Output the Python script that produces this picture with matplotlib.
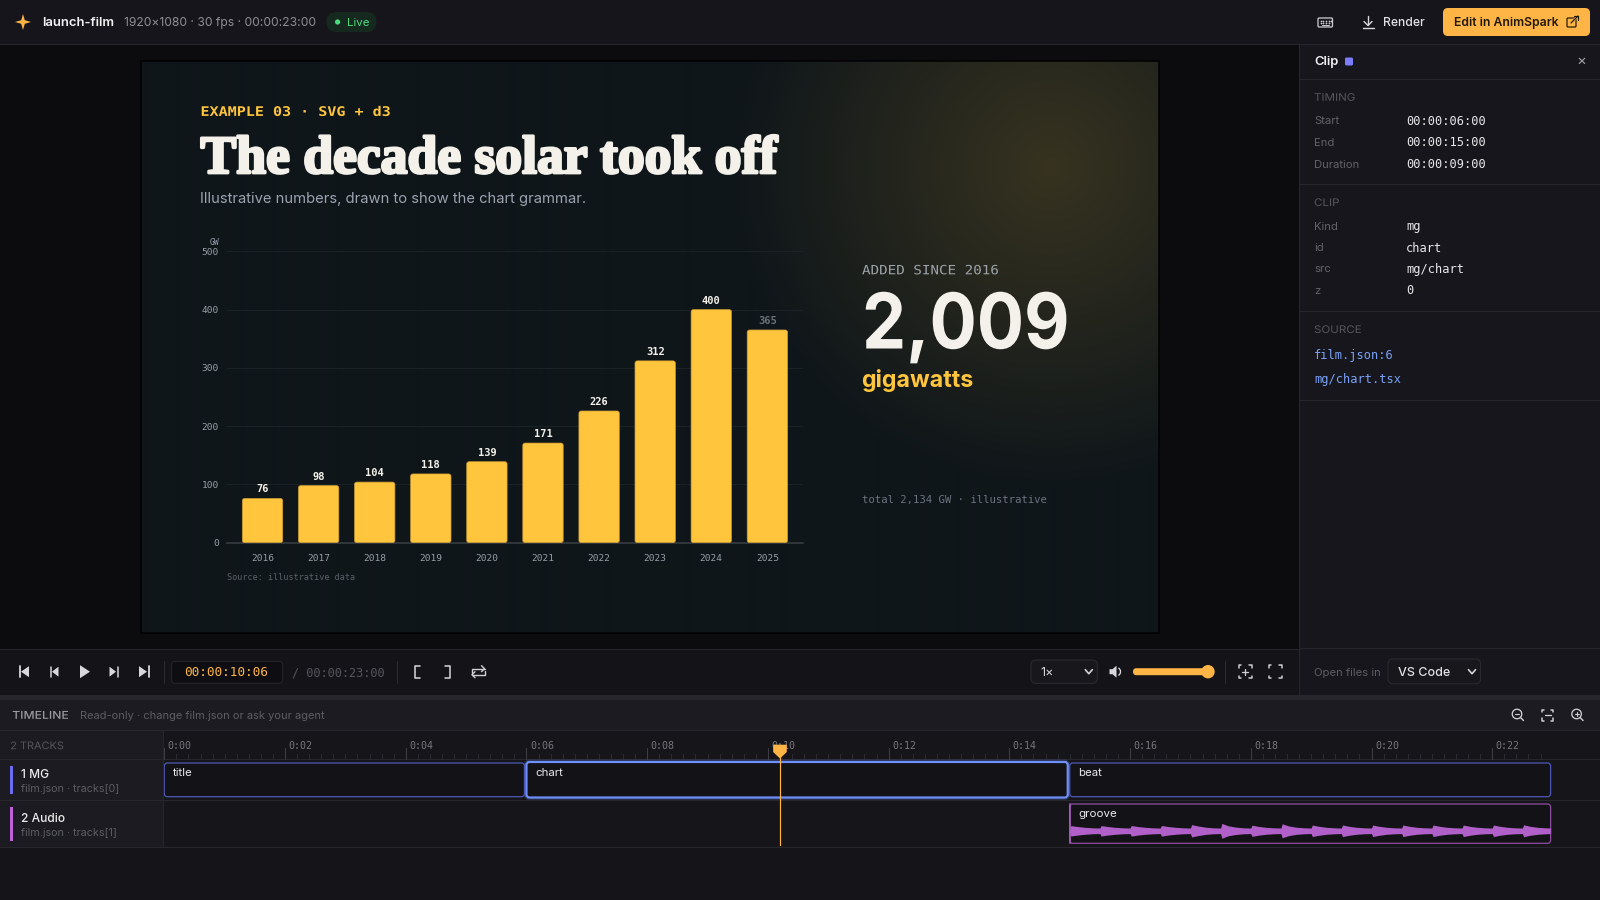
import numpy as np
import matplotlib
matplotlib.use('Agg')
import matplotlib.pyplot as plt
import matplotlib.patheffects as pe
from matplotlib.patches import FancyBboxPatch, Rectangle, Polygon, Circle, Arc
from matplotlib.transforms import Affine2D

# chart data
years = ['2016', '2017', '2018', '2019', '2020', '2021', '2022', '2023', '2024', '2025']
added_gw = [76, 98, 104, 118, 139, 171, 226, 312, 400, 365]
y_ticks = [0, 100, 200, 300, 400, 500]

# timeline data (seconds)
clip_names = ['title', 'chart', 'beat', 'groove']
clip_start = [0, 6, 15, 15]
clip_end = [6, 15, 23, 23]
ruler_labels = ['0:00', '0:02', '0:04', '0:06', '0:08', '0:10', '0:12', '0:14', '0:16', '0:18', '0:20', '0:22']
ruler_seconds = [0, 2, 4, 6, 8, 10, 12, 14, 16, 18, 20, 22]
playhead_sec = 10.2

# half height of the audio waveform in pixels, one row per half second beat
wave_half = [
    3.0, 5.2, 4.3, 3.5, 3.0, 2.8,
    2.8, 5.2, 4.3, 3.5, 3.0, 2.8,
    2.8, 5.3, 4.3, 3.5, 3.0, 2.8,
    2.8, 5.3, 4.3, 3.5, 3.0, 2.8,
    2.8, 6.2, 4.8, 3.6, 3.0, 2.8,
    2.8, 7.4, 5.0, 3.7, 3.0, 2.8,
    2.8, 5.6, 4.4, 3.5, 3.0, 2.8,
    2.8, 7.0, 4.9, 3.6, 3.0, 2.8,
    2.8, 5.8, 4.5, 3.5, 3.0, 2.8,
    2.8, 5.8, 4.5, 3.5, 3.0, 2.8,
    2.8, 5.8, 4.5, 3.5, 3.0, 2.8,
    2.8, 5.8, 4.5, 3.5, 3.0, 2.8,
    2.8, 5.8, 4.5, 3.5, 3.0, 2.8,
    2.8, 5.8, 4.5, 3.5, 3.0, 2.8,
    2.8, 5.8, 4.5, 3.5, 3.0, 2.8,
    2.8, 6.0, 4.5, 3.5, 3.0, 2.8,
]
wave_beat_pos = [0, 0.04, 0.25, 0.5, 0.75, 0.96]

# colours
YELLOW = '#ffc53d'
ORANGE = '#ffb545'
PANEL = '#16161c'
HEAD = '#1b1b21'
LINE = '#26262c'
MONO = 'DejaVu Sans Mono'
SANS = 'Inter'

PX = 0.72  # css px to points at dpi 100

fig = plt.figure(figsize=(16, 9), dpi=100, facecolor='#141419')
ui = fig.add_axes([0, 0, 1, 1])
ui.axis('off')


class StretchX(pe.AbstractPathEffect):
    # stands in for css letter-spacing, scales the glyphs sideways about the text's left edge
    def __init__(self, sx, x0):
        super().__init__()
        self.sx, self.x0 = sx, x0

    def draw_path(self, renderer, gc, tpath, affine, rgbFace=None):
        a = affine + Affine2D().translate(-self.x0, 0).scale(self.sx, 1).translate(self.x0, 0)
        renderer.draw_path(gc, tpath, a, rgbFace)


def label(x, y, s, size, color, family=SANS, weight='normal', ha='left', ax=None, stretch=None, **kw):
    t = (ax or ui).text(x, y + 1, s, fontsize=size * PX, color=color, family=family,
                        weight=weight, ha=ha, va='center', **kw)
    if stretch:
        t.set_path_effects([StretchX(stretch, x)])
    return t


def rect(x0, y0, x1, y1, face, edge='none', lw=0, r=0, z=1, ax=None, aspect=1):
    ax = ax or ui
    if r:
        p = FancyBboxPatch((x0, y0), x1 - x0, y1 - y0, boxstyle=f'round,pad=0,rounding_size={r}',
                           facecolor=face, edgecolor=edge, linewidth=lw * PX, zorder=z,
                           mutation_aspect=aspect)
    else:
        p = Rectangle((x0, y0), x1 - x0, y1 - y0, facecolor=face, edgecolor=edge,
                      linewidth=lw * PX, zorder=z)
    ax.add_patch(p)
    return p


def seg(xs, ys, color='#c9c9ce', lw=1.4, z=4):
    ui.plot(xs, ys, color=color, lw=lw * PX, zorder=z, solid_capstyle='round', solid_joinstyle='round')


def tri(pts, color='#d8d8dc', z=4):
    ui.add_patch(Polygon(pts, closed=True, facecolor=color, edgecolor='none', zorder=z))


def corners(cx, cy, h, color='#d0d0d4'):
    d = h * 0.4
    for sx in (-1, 1):
        for sy in (-1, 1):
            seg([cx + sx * (h - d), cx + sx * h, cx + sx * h], [cy + sy * h, cy + sy * h, cy + sy * (h - d)], color, 1.5)


def chevron(cx, cy, color='#d0d0d4'):
    seg([cx - 3.5, cx, cx + 3.5], [cy - 2, cy + 2, cy - 2], color, 1.7)


# page backgrounds ---------------------------------------------------------
rect(0, 44, 1299, 649, '#0c0c0e', z=0.2)

yy, xx = np.mgrid[61:633, 141:1159]
glow = 0.165 * np.clip(1 - np.hypot(xx - 1050, yy - 167) / 320.0, 0, 1)
frame = np.empty(xx.shape + (3,))
for i, (base, tint) in enumerate([(15, 255), (22, 197), (26, 61)]):
    frame[..., i] = (base + (tint - base) * glow) / 255
ui.imshow(frame, extent=(141.5, 1158.5, 633, 61), aspect='auto', zorder=0.4, interpolation='bilinear')
rect(141, 60.5, 1159, 633, 'none', '#020203', 1.6, z=0.5)

# top bar
rect(0, 0, 1600, 44, '#15151b', z=0.6)
ui.plot([0, 1600], [44.3, 44.3], color=LINE, lw=1 * PX, zorder=0.7)
tri([(23, 14), (24.8, 20.2), (31, 22), (24.8, 23.8), (23, 30), (21.2, 23.8), (15, 22), (21.2, 20.2)], ORANGE)
label(42, 22, 'launch-film', 13, '#f2f2f4', weight='semibold')
label(124, 22, '1920×1080 · 30 fps · 00:00:23:00', 12.1, '#8d8d94')
rect(326.5, 12, 376.5, 32, '#16291f', r=10, z=2)
ui.add_patch(Circle((337.6, 22), 2.6, facecolor='#4ade80', zorder=3))
label(347, 22, 'Live', 11.5, '#4ade80')

# keyboard icon
rect(1318, 18, 1332.5, 27, 'none', '#c9c9ce', 1.3, r=1.2, z=4)
ui.scatter([1320.5, 1323.2, 1326, 1328.8, 1330.5, 1320.5, 1323.2, 1326, 1328.8], [20.5, 20.5, 20.5, 20.5, 20.5, 22.7, 22.7, 22.7, 22.7], s=1.6, color='#c9c9ce', zorder=4, linewidths=0)
seg([1322, 1329], [25, 25], '#c9c9ce', 1)
# download icon
seg([1368, 1368], [16, 25], '#d8d8dc')
seg([1364, 1368, 1372], [21.5, 25.5, 21.5], '#d8d8dc')
seg([1362.5, 1373.5], [28, 28], '#d8d8dc')
label(1383, 22, 'Render', 12.1, '#e2e2e6', weight='medium')
rect(1443, 8, 1590, 36, ORANGE, r=5, z=2)
label(1454.5, 22, 'Edit in AnimSpark', 12.2, '#20180a', weight='semibold', zorder=3)
rect(1567, 18, 1576, 27, 'none', '#20180a', 1.2, r=1, z=3)
seg([1571, 1578], [23, 16], ORANGE, 2.4, z=3.5)
seg([1571, 1578], [23, 16], '#20180a', 1.2, z=4)
seg([1574, 1578, 1578], [16, 16, 20], '#20180a', 1.2, z=4)

# right panel
rect(1299, 44.5, 1600, 695, PANEL, z=0.6)
ui.plot([1299, 1299], [44, 695], color=LINE, lw=1 * PX, zorder=0.7)
for y in [79.3, 184.3, 311.3, 400.3, 648.3]:
    ui.plot([1299, 1600], [y, y], color=LINE, lw=1 * PX, zorder=0.7)
label(1314, 61, 'Clip', 13, '#f0f0f2', weight='semibold')
rect(1345, 57.5, 1353, 65.5, '#7c7cff', r=1.5, z=2)
label(1581, 60, '×', 15, '#a0a0a6', ha='center')
for txt, y in [('TIMING', 96.8), ('CLIP', 202), ('SOURCE', 329)]:
    label(1314, y, txt, 10.5, '#55555d', stretch=1.1)
rows = [('Start', '00:00:06:00', 120.5), ('End', '00:00:15:00', 141.5), ('Duration', '00:00:09:00', 163.5),
        ('Kind', 'mg', 225.5), ('id', 'chart', 247), ('src', 'mg/chart', 268.5), ('z', '0', 289.5)]
for k, v, y in rows:
    label(1314, y, k, 11.3, '#62626a')
    label(1406, y, v, 12, '#e8e8ea', family=MONO)
label(1314, 354, 'film.json:6', 12, '#7aa2f7', family=MONO)
label(1314, 378, 'mg/chart.tsx', 12, '#7aa2f7', family=MONO)

# frame text
label(200.5, 111.4, 'EXAMPLE 03 · SVG + d3', 13.2, YELLOW, family=MONO, weight='bold', stretch=1.14)
title = label(200.5, 159, 'The decade solar took off', 53.6, '#f3f1ea', family='Liberation Serif', weight='bold',
              path_effects=[pe.withStroke(linewidth=2.0, foreground='#f3f1ea')])
label(200.5, 197.5, 'Illustrative numbers, drawn to show the chart grammar.', 14.8, '#9ca3af')
label(862, 269.8, 'ADDED SINCE 2016', 12.8, '#9ca3a8', family=MONO, stretch=1.11)
label(862, 327, '2,009', 77, '#f3f1ea', weight='bold', stretch=0.91)
label(861.5, 379.5, 'gigawatts', 23.2, YELLOW, weight='bold')
label(861.5, 498.5, 'total 2,134 GW · illustrative', 10.6, '#6b7280', family=MONO)

# chart --------------------------------------------------------------------
chart = fig.add_axes([227 / 1600, (900 - 542.7) / 900, 576.3 / 1600, 291.4 / 900])
chart.patch.set_visible(False)
x_pos = np.arange(len(years))
chart.set_xlim(-0.633, 9.64)
chart.set_ylim(0, 500)
bars = chart.bar(x_pos, added_gw, width=0.72, color=YELLOW, zorder=3)
for b in bars:
    bx, by = b.get_xy()
    rounded = FancyBboxPatch((bx, by), b.get_width(), b.get_height(),
                             boxstyle='round,pad=0,rounding_size=0.045', mutation_aspect=87,
                             facecolor=YELLOW, edgecolor='#c99a32', linewidth=0.5, zorder=3)
    chart.add_patch(rounded)
    b.set_visible(False)
for i, v in enumerate(added_gw):
    c = '#6b7078' if years[i] == '2025' else '#f3f1ea'
    chart.annotate(str(v), (x_pos[i], v), xytext=(0, 9 * PX), textcoords='offset points', ha='center', va='center',
                   fontsize=10.4 * PX, color=c, family=MONO, weight='bold')
for s in ['top', 'right', 'left']:
    chart.spines[s].set_visible(False)
chart.spines['bottom'].set_color('#3b4045')
chart.spines['bottom'].set_linewidth(1.5 * PX)
chart.grid(axis='y', color='#1a2127', lw=1 * PX, zorder=0)
chart.set_axisbelow(True)
chart.set_yticks(y_ticks)
chart.set_xticks(x_pos, years)
chart.tick_params(axis='both', length=0, labelsize=9.5 * PX, labelcolor='#979ea9')
chart.tick_params(axis='y', pad=8 * PX)
chart.tick_params(axis='x', pad=11 * PX)
for t in chart.get_xticklabels() + chart.get_yticklabels():
    t.set_family(MONO)
label(219, 241.5, 'GW', 8, '#9ca3af', family=MONO, ha='right')
label(227, 576, 'Source: illustrative data', 8.45, '#5b6068', family=MONO)

# transport bar ------------------------------------------------------------
rect(0, 649.3, 1299, 694.5, '#131318', z=0.6)
ui.plot([0, 1299], [649.3, 649.3], color=LINE, lw=1 * PX, zorder=0.7)
rect(0, 694.5, 1600, 700, '#26262c', z=0.6)
c = 671.7
seg([19.5, 19.5], [c - 5.5, c + 5.5], '#d8d8dc', 1.8)
tri([(29, c - 5.5), (29, c + 5.5), (21, c)])
seg([50.5, 50.5], [c - 5, c + 5], '#d8d8dc', 1.5)
tri([(58.5, c - 5), (58.5, c + 5), (52, c)])
tri([(80, c - 6.5), (80, c + 6.5), (90, c)])
tri([(109.5, c - 5), (109.5, c + 5), (116, c)])
seg([118, 118], [c - 5, c + 5], '#d8d8dc', 1.5)
tri([(139, c - 5.5), (139, c + 5.5), (147, c)])
seg([148.5, 148.5], [c - 5.5, c + 5.5], '#d8d8dc', 1.8)
for x in [164.3, 397.4, 1224.5]:
    ui.plot([x, x], [661, 683], color='#2a2a30', lw=1 * PX, zorder=3)
rect(171.4, 661.3, 282.7, 683.3, '#0e0e12', LINE, 1, r=4, z=2)
label(184, 671.5, '00:00:10:06', 12.8, ORANGE, family=MONO, weight='medium', zorder=3)
label(291.8, 671.5, '/ 00:00:23:00', 11.9, '#55555d', family=MONO)
seg([420, 415, 415, 420], [c - 6, c - 6, c + 6, c + 6], '#d0d0d4', 1.6)
seg([445, 450, 450, 445], [c - 6, c - 6, c + 6, c + 6], '#d0d0d4', 1.6)
seg([472, 472, 484.5], [c + 1, c - 3, c - 3], '#d0d0d4', 1.4)
seg([481.5, 484.5, 481.5], [c - 6, c - 3, c], '#d0d0d4', 1.4)
seg([484.5, 484.5, 472], [c - 1, c + 3, c + 3], '#d0d0d4', 1.4)
seg([475, 472, 475], [c, c + 3, c + 6], '#d0d0d4', 1.4)

rect(1031, 660, 1097.4, 683.3, '#17171c', '#2b2b31', 1, r=5, z=2)
label(1040, 671.5, '1×', 12.5, '#d8d8dc', zorder=3)
chevron(1088.8, c)
tri([(1109.5, c - 2.5), (1112.5, c - 2.5), (1116.5, c - 6), (1116.5, c + 6), (1112.5, c + 2.5), (1109.5, c + 2.5)])
ui.add_patch(Arc((1117, c), 7, 8, theta1=-70, theta2=70, color='#d8d8dc', lw=1.3 * PX, zorder=4))
rect(1133, c - 3.5, 1208, c + 3.5, ORANGE, r=3.5, z=2)
ui.add_patch(Circle((1208, c), 6.7, facecolor=ORANGE, zorder=3))
corners(1245, c, 6.5)
seg([1245, 1245], [c - 3, c + 3], '#d0d0d4', 1.3)
seg([1242, 1248], [c, c], '#d0d0d4', 1.3)
corners(1275, c, 6.5)
label(1314, 671.5, 'Open files in', 11.3, '#5d5d65')
rect(1388, 659, 1480.6, 683.7, '#17171c', '#2b2b31', 1, r=5, z=2)
label(1398.5, 671.5, 'VS Code', 12.5, '#e2e2e6', weight='medium', zorder=3)
chevron(1472, c)

# timeline header
rect(0, 700, 1600, 730, HEAD, z=0.6)
label(12.2, 714.8, 'TIMELINE', 10.8, '#9a9aa0', weight='medium', stretch=1.13)
label(80, 714.8, 'Read-only · change film.json or ask your agent', 11.1, '#5d5d65')
for cx in [1518, 1577.6]:
    ui.add_patch(Arc((cx - 1, 714), 9.5, 9.5, color='#d0d0d4', lw=1.3 * PX, zorder=4))
    seg([cx + 2.5, cx + 5.5], [717.5, 720.5], '#d0d0d4', 1.4)
    seg([cx - 3, cx + 1], [714, 714], '#d0d0d4', 1.1)
seg([1576.6, 1576.6], [712, 716], '#d0d0d4', 1.1)
corners(1547.4, 715, 5.5)
seg([1544.5, 1550.5], [715, 715], '#d0d0d4', 1.3)

# timeline rows
rect(0, 730, 163, 847.3, HEAD, z=0.6)
rect(163, 730, 1600, 847.3, '#15151a', z=0.6)
for y in [730, 759, 800.3, 847.3]:
    ui.plot([0, 1600], [y, y], color=LINE, lw=1 * PX, zorder=0.7)
ui.plot([163, 163], [730, 847.3], color=LINE, lw=1 * PX, zorder=0.7)
label(10.2, 745.2, '2 TRACKS', 10.5, '#55555d', stretch=1.04)
rect(10.3, 766, 12.8, 793.7, '#6c6cf0', z=2)
rect(10.3, 807, 12.8, 840.7, '#c060d8', z=2)
label(21, 773.5, '1 MG', 12, '#ececee', weight='medium')
label(21, 787.8, 'film.json · tracks[0]', 10.8, '#5d5d65')
label(21, 817.5, '2 Audio', 12, '#ececee', weight='medium')
label(21, 831.8, 'film.json · tracks[1]', 10.8, '#5d5d65')

ui.set_xlim(0, 1600)
ui.set_ylim(900, 0)

# timeline tracks, x in seconds, y in rows of pixels
tl = fig.add_axes([164.3 / 1600, (900 - 847.3) / 900, 1388.3 / 1600, 117.3 / 900])
tl.patch.set_visible(False)
tl.axis('off')
tl.set_xlim(0, 23)
tl.set_ylim(847.3, 730)
sec_px = 1388.3 / 23
aspect = sec_px  # one second on x is this many pixels, y is already pixels

for t in np.arange(0, 23.01, 0.2):
    major = abs(t / 2 - round(t / 2)) < 1e-6
    tl.plot([t, t], [748 if major else 754, 759], color='#3d3d44' if major else '#2a2a31', lw=1 * PX, zorder=1)
tl.plot([23, 23], [730, 759], color='#3d3d44', lw=1 * PX, ls=(0, (2, 2)), zorder=1)
for t, s in zip(ruler_seconds, ruler_labels):
    tl.text(t + 3.5 / sec_px, 746, s, fontsize=10 * PX, family=MONO, color='#76767d', va='center', zorder=2)

rows_y = {'title': (763, 796.7), 'chart': (762, 797.5), 'beat': (763, 796.7), 'groove': (804, 843.3)}
for name, t0, t1 in zip(clip_names, clip_start, clip_end):
    y0, y1 = rows_y[name]
    edge, lw = '#4d56b0', 1.3
    if name == 'chart':
        edge, lw = '#6f8ffa', 2.2
        glow_box = FancyBboxPatch((t0, y0), t1 - t0 - 2 / sec_px, y1 - y0, boxstyle='round,pad=0,rounding_size=0.05',
                                  mutation_aspect=aspect, facecolor='none', edgecolor='#6f8ffa', alpha=0.22,
                                  linewidth=5 * PX, zorder=3)
        tl.add_patch(glow_box)
    if name == 'groove':
        edge = '#8a4a9c'
    box = FancyBboxPatch((t0, y0), t1 - t0 - 2 / sec_px, y1 - y0, boxstyle='round,pad=0,rounding_size=0.05',
                         mutation_aspect=aspect, facecolor='#121217', edgecolor=edge, linewidth=lw * PX,
                         zorder=4)
    tl.add_patch(box)
    name_y = 773 if name != 'groove' else y0 + 10
    tl.text((t0 + 8.5 / sec_px), name_y, name, fontsize=11.5 * PX, family=SANS, color='#ececee', va='center', zorder=5)

n_per_beat = len(wave_beat_pos)
wave_t = []
for i in range(len(wave_half) // n_per_beat):
    wave_t += [15 + 0.5 * (i + p) for p in wave_beat_pos]
wave_t = np.array(wave_t)
wave_t = np.minimum(wave_t, 23 - 2 / sec_px)
wave_h = np.array(wave_half)
tl.fill_between(wave_t, 830.8 - wave_h, 830.8 + wave_h, color='#b060c8', lw=0, zorder=5)
tl.plot([15, 15], [804, 843.3], color='#b060c8', lw=1.5 * PX, zorder=6)

tl.plot([playhead_sec, playhead_sec], [752, 844.7], color=ORANGE, lw=1.2 * PX, zorder=7)
hw = 6.8 / sec_px
tl.add_patch(Polygon([(playhead_sec - hw, 744.7), (playhead_sec + hw, 744.7), (playhead_sec + hw, 752),
                      (playhead_sec, 758.5), (playhead_sec - hw, 752)], closed=True, facecolor=ORANGE, edgecolor='none', zorder=8))

fig.savefig('out.png', dpi=100, facecolor=fig.get_facecolor())
